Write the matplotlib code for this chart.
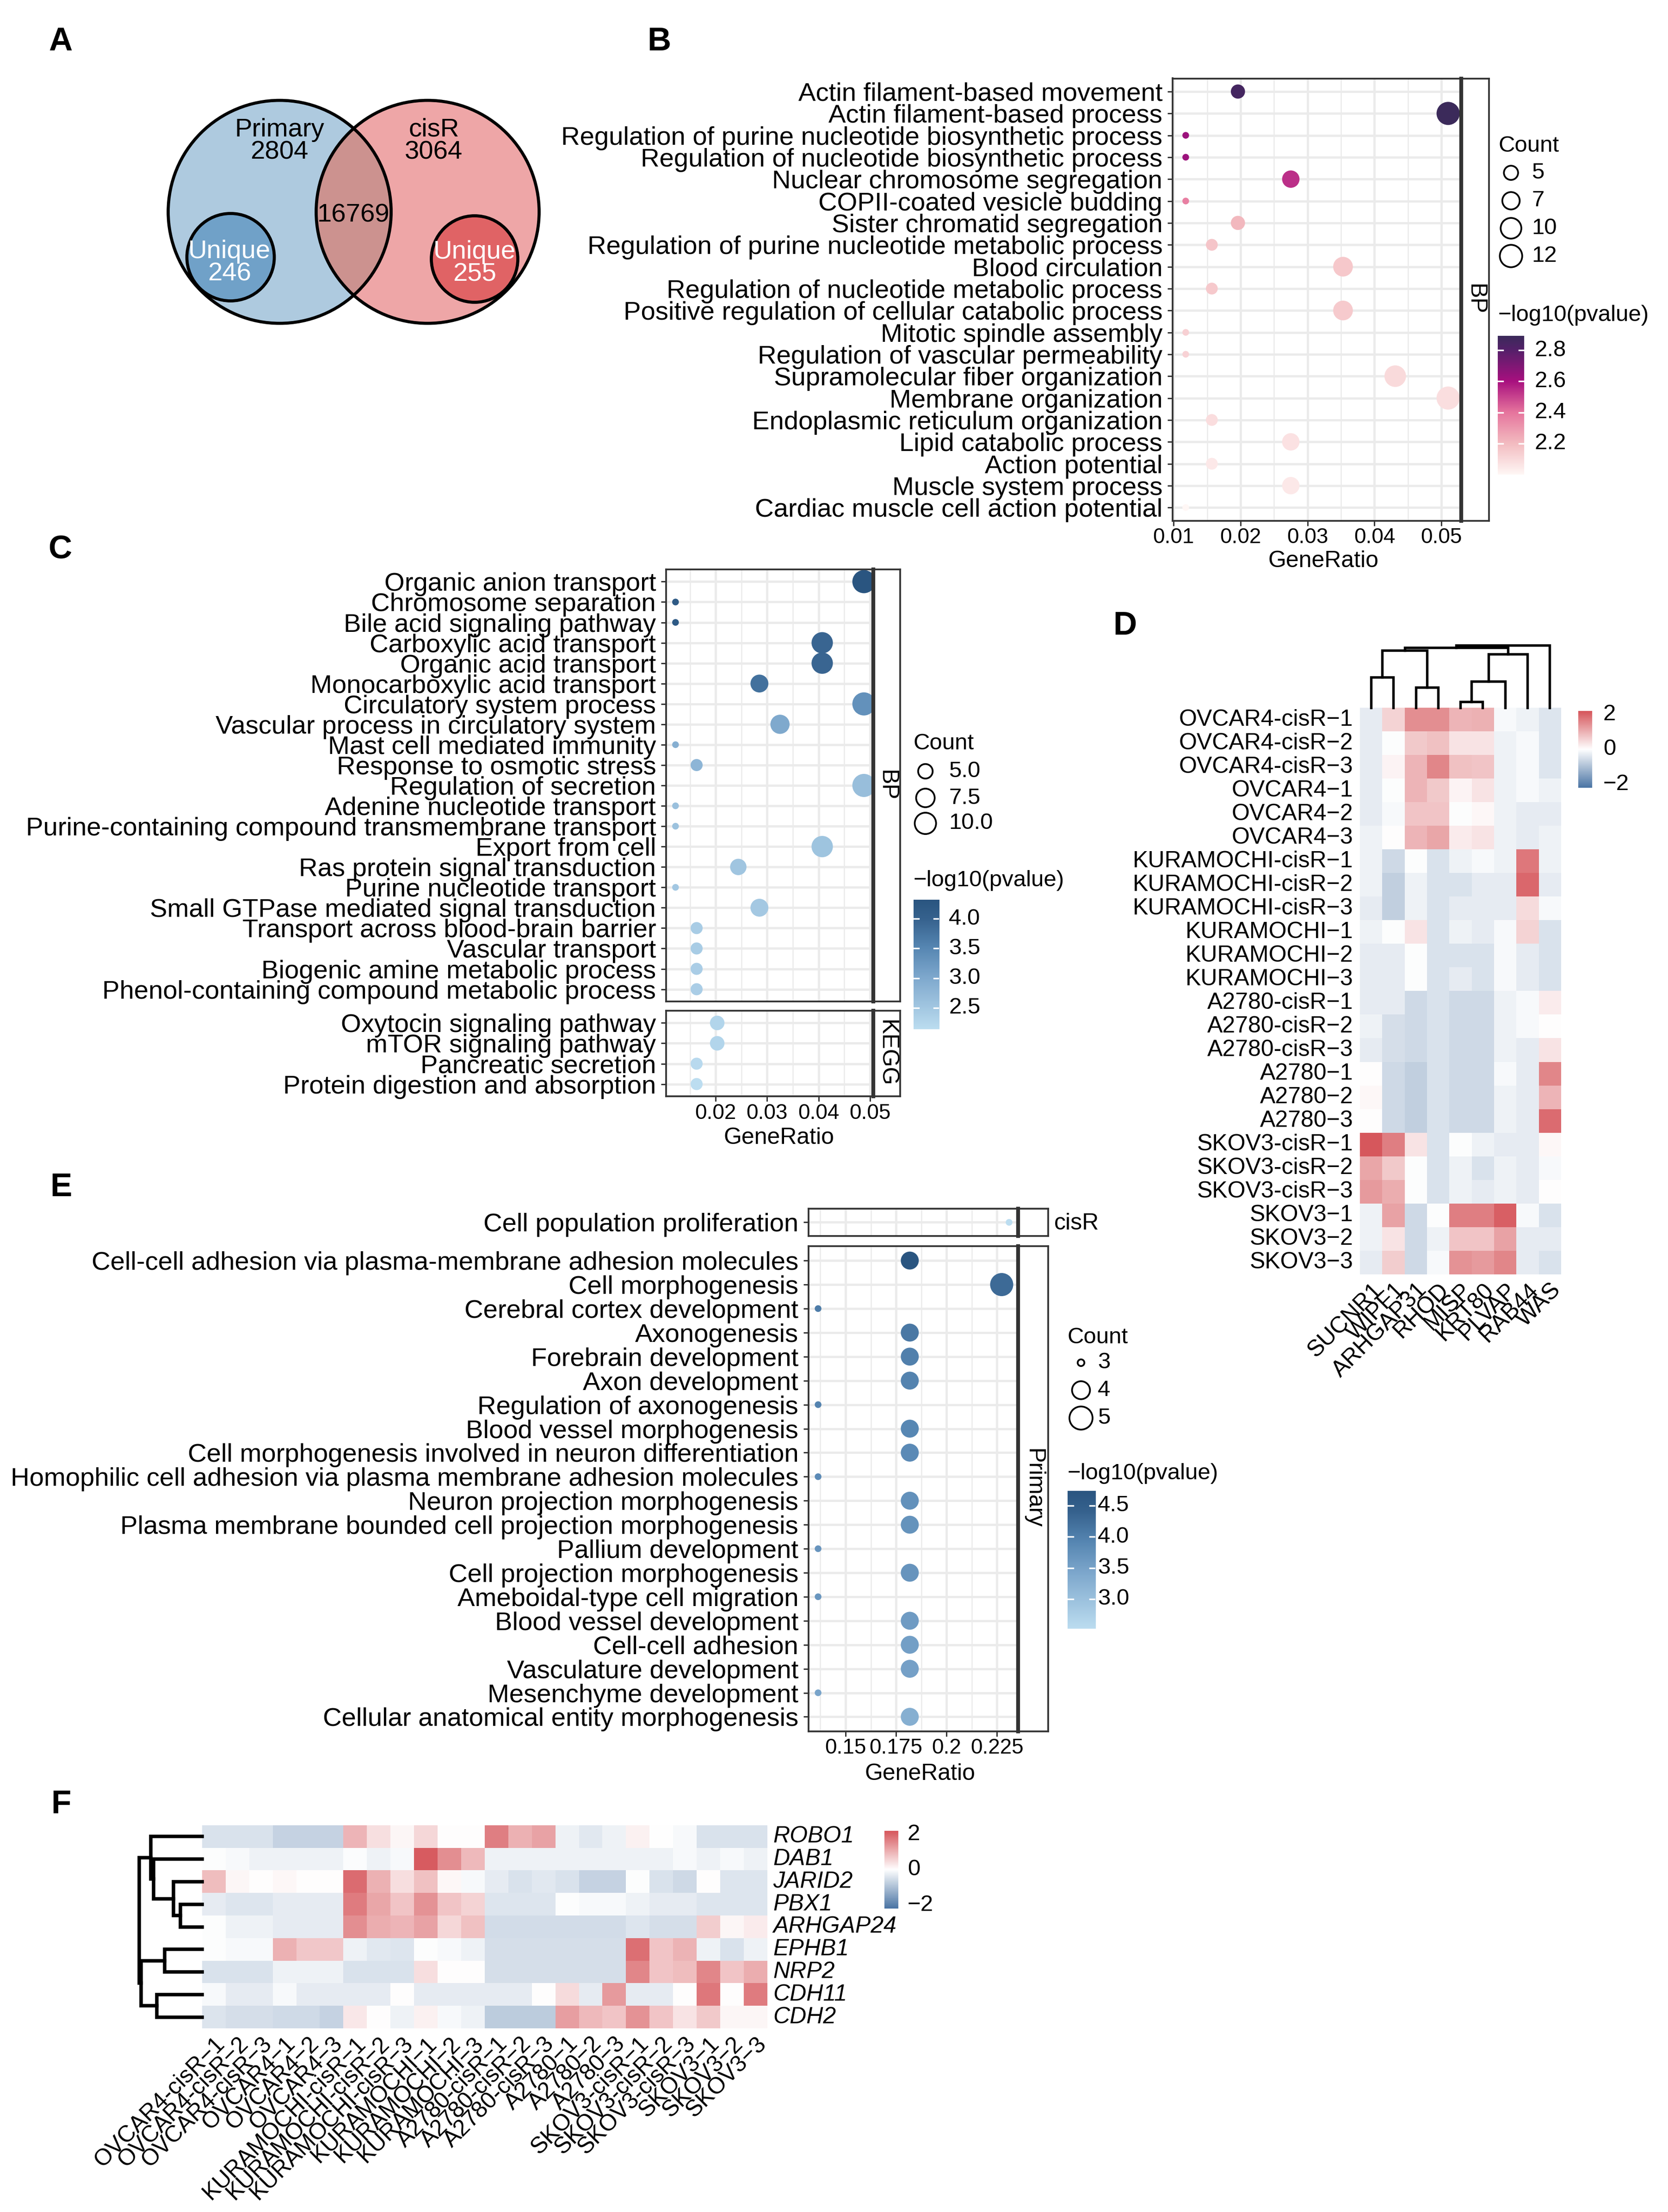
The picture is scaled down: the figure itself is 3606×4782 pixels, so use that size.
import numpy as np
import matplotlib
matplotlib.use("Agg")
import matplotlib.pyplot as plt
from matplotlib.patches import Circle
from matplotlib.colors import LinearSegmentedColormap, Normalize

W, H = 3606, 4782
DPI = 300
plt.rcParams['font.family'] = ['Liberation Sans', 'DejaVu Sans']

# ---------------- A: venn ----------------
venn_sets = ['Primary', 'cisR']
venn_only = [2804, 3064]
venn_shared = 16769
venn_unique = [246, 255]

# ---------------- B: cisR unique, GO BP ----------------
b_terms = ['Actin filament-based movement', 'Actin filament-based process',
           'Regulation of purine nucleotide biosynthetic process',
           'Regulation of nucleotide biosynthetic process', 'Nuclear chromosome segregation',
           'COPII-coated vesicle budding', 'Sister chromatid segregation',
           'Regulation of purine nucleotide metabolic process', 'Blood circulation',
           'Regulation of nucleotide metabolic process',
           'Positive regulation of cellular catabolic process', 'Mitotic spindle assembly',
           'Regulation of vascular permeability', 'Supramolecular fiber organization',
           'Membrane organization', 'Endoplasmic reticulum organization',
           'Lipid catabolic process', 'Action potential', 'Muscle system process',
           'Cardiac muscle cell action potential']
b_count = [5, 13, 3, 3, 7, 3, 5, 4, 9, 4, 9, 3, 3, 11, 13, 4, 7, 4, 7, 3]
b_ratio = [0.0196, 0.0510, 0.0118, 0.0118, 0.0275, 0.0118, 0.0196, 0.0157, 0.0353, 0.0157,
           0.0353, 0.0118, 0.0118, 0.0431, 0.0510, 0.0157, 0.0275, 0.0157, 0.0275, 0.0118]
b_logp = [2.86, 2.893, 2.63, 2.63, 2.54, 2.37, 2.21, 2.17, 2.16, 2.155,
          2.15, 2.13, 2.125, 2.10, 2.085, 2.09, 2.075, 2.05, 2.05, 2.00]

# ---------------- C: primary unique, BP + KEGG ----------------
c_bp_terms = ['Organic anion transport', 'Chromosome separation', 'Bile acid signaling pathway',
              'Carboxylic acid transport', 'Organic acid transport',
              'Monocarboxylic acid transport', 'Circulatory system process',
              'Vascular process in circulatory system', 'Mast cell mediated immunity',
              'Response to osmotic stress', 'Regulation of secretion',
              'Adenine nucleotide transport',
              'Purine-containing compound transmembrane transport', 'Export from cell',
              'Ras protein signal transduction', 'Purine nucleotide transport',
              'Small GTPase mediated signal transduction',
              'Transport across blood-brain barrier', 'Vascular transport',
              'Biogenic amine metabolic process',
              'Phenol-containing compound metabolic process']
c_bp_count = [12, 3, 3, 10, 10, 7, 12, 8, 3, 4, 12, 3, 3, 10, 6, 3, 7, 4, 4, 4, 4]
c_bp_ratio = [0.0488, 0.0122, 0.0122, 0.0407, 0.0407, 0.0285, 0.0488, 0.0325, 0.0122, 0.0163,
              0.0488, 0.0122, 0.0122, 0.0407, 0.0244, 0.0122, 0.0285, 0.0163, 0.0163, 0.0163,
              0.0163]
c_bp_logp = [4.324, 4.2, 4.2, 3.95, 3.95, 3.8, 3.35, 3.0, 2.9, 2.8, 2.65, 2.62, 2.58, 2.56,
             2.53, 2.5, 2.48, 2.42, 2.42, 2.4, 2.4]
c_kegg_terms = ['Oxytocin signaling pathway', 'mTOR signaling pathway',
                'Pancreatic secretion', 'Protein digestion and absorption']
c_kegg_count = [5, 5, 4, 4]
c_kegg_ratio = [0.0203, 0.0203, 0.0163, 0.0163]
c_kegg_logp = [2.28, 2.28, 2.2, 2.135]

# ---------------- E: GO terms of panel F genes ----------------
e_cisr_terms = ['Cell population proliferation']
e_cisr_count = [3]
e_cisr_ratio = [0.2308]
e_cisr_logp = [2.525]
e_pri_terms = ['Cell-cell adhesion via plasma-membrane adhesion molecules', 'Cell morphogenesis',
               'Cerebral cortex development', 'Axonogenesis', 'Forebrain development',
               'Axon development', 'Regulation of axonogenesis', 'Blood vessel morphogenesis',
               'Cell morphogenesis involved in neuron differentiation',
               'Homophilic cell adhesion via plasma membrane adhesion molecules',
               'Neuron projection morphogenesis',
               'Plasma membrane bounded cell projection morphogenesis', 'Pallium development',
               'Cell projection morphogenesis', 'Ameboidal-type cell migration',
               'Blood vessel development', 'Cell-cell adhesion', 'Vasculature development',
               'Mesenchyme development', 'Cellular anatomical entity morphogenesis']
e_pri_count = [4, 5, 3, 4, 4, 4, 3, 4, 4, 3, 4, 4, 3, 4, 3, 4, 4, 4, 3, 4]
e_pri_ratio = [0.1818, 0.2273, 0.1364, 0.1818, 0.1818, 0.1818, 0.1364, 0.1818, 0.1818, 0.1364,
               0.1818, 0.1818, 0.1364, 0.1818, 0.1364, 0.1818, 0.1818, 0.1818, 0.1364, 0.1818]
e_pri_logp = [4.735, 4.3, 4.05, 4.1, 4.0, 3.95, 3.95, 3.9, 3.85, 3.85, 3.75, 3.72, 3.7, 3.7,
              3.68, 3.6, 3.55, 3.52, 3.47, 3.3]

# ---------------- D / F: heatmaps ----------------
M = '\u2212'
samples = ['OVCAR4-cisR' + M + '1', 'OVCAR4-cisR' + M + '2', 'OVCAR4-cisR' + M + '3',
           'OVCAR4' + M + '1', 'OVCAR4' + M + '2', 'OVCAR4' + M + '3',
           'KURAMOCHI-cisR' + M + '1', 'KURAMOCHI-cisR' + M + '2', 'KURAMOCHI-cisR' + M + '3',
           'KURAMOCHI' + M + '1', 'KURAMOCHI' + M + '2', 'KURAMOCHI' + M + '3',
           'A2780-cisR' + M + '1', 'A2780-cisR' + M + '2', 'A2780-cisR' + M + '3',
           'A2780' + M + '1', 'A2780' + M + '2', 'A2780' + M + '3',
           'SKOV3-cisR' + M + '1', 'SKOV3-cisR' + M + '2', 'SKOV3-cisR' + M + '3',
           'SKOV3' + M + '1', 'SKOV3' + M + '2', 'SKOV3' + M + '3']

d_genes = ['SUCNR1', 'WIPF1', 'ARHGAP31', 'RHOD', 'MISP', 'KRT80', 'PLVAP', 'RAB44', 'WAS']
d_values = np.array([
    [-0.3, 0.55, 1.45, 1.45, 0.95, 1.0, -0.1, -0.2, -0.4],
    [-0.3, -0.03, 0.7, 0.8, 0.35, 0.35, -0.2, -0.1, -0.4],
    [-0.3, 0.15, 0.95, 1.55, 0.8, 0.75, -0.2, -0.1, -0.4],
    [-0.3, -0.03, 0.95, 0.7, 0.15, 0.35, -0.2, -0.1, -0.2],
    [-0.3, -0.1, 0.75, 0.75, -0.03, 0.1, -0.2, -0.3, -0.3],
    [-0.2, 0.02, 0.95, 1.15, 0.25, 0.35, -0.2, -0.3, -0.2],
    [-0.2, -0.6, -0.03, -0.45, -0.2, -0.1, -0.2, 1.75, -0.2],
    [-0.2, -0.75, -0.2, -0.45, -0.45, -0.3, -0.3, 1.95, -0.3],
    [-0.3, -0.75, -0.2, -0.45, -0.3, -0.3, -0.3, 0.45, -0.1],
    [-0.2, -0.03, 0.35, -0.45, -0.2, -0.3, -0.1, 0.55, -0.45],
    [-0.3, -0.3, -0.03, -0.45, -0.45, -0.45, -0.1, -0.3, -0.45],
    [-0.3, -0.3, -0.03, -0.45, -0.3, -0.45, -0.1, -0.3, -0.45],
    [-0.3, -0.3, -0.6, -0.45, -0.6, -0.6, -0.2, -0.1, 0.25],
    [-0.2, -0.5, -0.6, -0.45, -0.6, -0.6, -0.2, -0.1, 0.03],
    [-0.3, -0.5, -0.6, -0.45, -0.6, -0.6, -0.2, -0.3, 0.35],
    [0.03, -0.6, -0.75, -0.45, -0.6, -0.6, -0.1, -0.3, 1.55],
    [0.1, -0.6, -0.75, -0.45, -0.6, -0.6, -0.2, -0.3, 0.95],
    [0.03, -0.6, -0.75, -0.45, -0.6, -0.6, -0.2, -0.3, 1.9],
    [2.15, 1.65, 0.35, -0.45, -0.03, -0.2, -0.3, -0.3, 0.1],
    [1.15, 0.7, -0.03, -0.45, -0.2, -0.45, -0.2, -0.3, -0.1],
    [1.3, 1.05, -0.03, -0.45, -0.2, -0.3, -0.2, -0.3, 0.03],
    [-0.2, 1.2, -0.6, -0.03, 1.65, 1.65, 2.05, -0.1, -0.45],
    [-0.2, 0.35, -0.6, -0.2, 0.75, 0.75, 1.2, -0.3, -0.3],
    [-0.3, 0.65, -0.6, -0.1, 1.4, 1.3, 1.55, -0.3, -0.45],
])
# column dendrogram: (left, right, height), new node ids start at 9
d_col_merges = [(0, 1, 4.9), (2, 3, 3.25), (4, 5, 0.95), (11, 6, 4.2), (12, 7, 8.6),
                (9, 10, 9.15), (14, 13, 9.6), (15, 8, 10.0)]

f_genes = ['ROBO1', 'DAB1', 'JARID2', 'PBX1', 'ARHGAP24', 'EPHB1', 'NRP2', 'CDH11', 'CDH2']
f_values = np.array([
    [-0.45, -0.45, -0.45, -0.7, -0.7, -0.7, 0.95, 0.4, 0.12, 0.5, 0.02, 0.02,
     1.65, 1.0, 1.2, -0.2, -0.35, -0.2, 0.18, 0.0, -0.1, -0.45, -0.45, -0.45],
    [-0.03, -0.1, -0.2, -0.2, -0.2, -0.2, -0.05, -0.2, -0.1, 2.1, 1.45, 0.9,
     -0.2, -0.2, -0.2, -0.2, -0.2, -0.2, -0.2, -0.2, -0.1, -0.2, -0.1, -0.2],
    [0.85, 0.12, 0.02, 0.1, 0.03, 0.03, 1.9, 1.0, 0.42, 0.8, 0.1, -0.1,
     -0.3, -0.45, -0.35, -0.45, -0.7, -0.7, -0.03, -0.45, -0.6, 0.02, -0.4, -0.4],
    [-0.3, -0.4, -0.4, -0.3, -0.3, -0.3, 1.7, 1.15, 0.75, 1.4, 0.75, 0.55,
     -0.4, -0.4, -0.4, -0.03, -0.1, -0.1, -0.2, -0.3, -0.3, -0.4, -0.4, -0.4],
    [-0.03, -0.2, -0.2, -0.3, -0.3, -0.3, 1.45, 1.05, 0.95, 1.2, 0.5, 0.8,
     -0.55, -0.55, -0.55, -0.55, -0.55, -0.55, -0.4, -0.5, -0.5, 0.65, 0.12, 0.25],
    [-0.03, -0.1, -0.1, 1.0, 0.72, 0.72, -0.2, -0.35, -0.4, -0.03, -0.1, -0.2,
     -0.5, -0.5, -0.5, -0.5, -0.5, -0.5, 1.85, 0.75, 0.97, -0.2, -0.45, -0.2],
    [-0.45, -0.45, -0.45, -0.2, -0.2, -0.2, -0.45, -0.45, -0.45, 0.42, 0.02, 0.02,
     -0.5, -0.5, -0.5, -0.5, -0.5, -0.5, 1.55, 0.75, 0.85, 1.55, 0.75, 1.05],
    [-0.1, -0.3, -0.3, -0.1, -0.3, -0.3, -0.3, -0.3, 0.02, -0.3, -0.3, -0.3,
     -0.3, -0.3, 0.02, 0.45, -0.3, 1.3, -0.3, -0.3, 0.02, 1.75, 0.02, 1.7],
    [-0.42, -0.5, -0.5, -0.58, -0.58, -0.7, 0.3, 0.02, -0.2, 0.18, -0.1, -0.2,
     -0.8, -0.8, -0.8, 1.25, 0.9, 0.75, 1.4, 0.75, 0.35, 0.7, 0.12, 0.12],
])
f_row_merges = [(3, 4, 3.45), (2, 9, 4.55), (1, 10, 7.7), (0, 11, 8.15), (5, 6, 5.95),
                (7, 8, 7.2), (13, 14, 9.7), (12, 15, 10.0)]

# ---------------- style ----------------
FS_TERM = 13.5
FS_TICK = 11
FS_XLAB = 12
FS_LEG = 11.8
FS_HEAT = 12
EDGE = '#333333'
GRID = '#EBEBEB'

pink_cmap = LinearSegmentedColormap.from_list('bp_pink', [
    (0.0, '#FFF7F5'), (0.225, '#F3BBC0'), (0.45, '#E6749D'),
    (0.674, '#A8107F'), (0.9, '#55206A'), (1.0, '#3B2A5A')])
blue_cmap = LinearSegmentedColormap.from_list('bp_blue', [
    (0.0, '#BCDDF0'), (0.4, '#7EA8CD'), (0.63, '#5686B2'),
    (0.85, '#36628E'), (1.0, '#2A5580')])
heat_cmap = LinearSegmentedColormap.from_list('heat', ['#4A74A4', '#FFFFFF', '#D6555A'])
heat_norm = Normalize(-2.2, 2.2)

fig = plt.figure(figsize=(W / DPI, H / DPI), dpi=DPI)
ov = fig.add_axes([0, 0, 1, 1], zorder=10)
ov.set_xlim(0, W)
ov.set_ylim(H, 0)
ov.axis('off')
ov.patch.set_alpha(0)


def px_axes(x0, y0, x1, y1, **kw):
    return fig.add_axes([x0 / W, 1 - y1 / H, (x1 - x0) / W, (y1 - y0) / H], **kw)


def expand(vals, mult=0.05):
    lo, hi = min(vals), max(vals)
    r = hi - lo
    return lo - mult * r, hi + mult * r


def dot_area(counts, cmin, cmax, dmin=14.5, dmax=50.0):
    counts = np.asarray(counts, dtype=float)
    f = (np.sqrt(counts) - np.sqrt(cmin)) / (np.sqrt(cmax) - np.sqrt(cmin))
    d = dmin + (dmax - dmin) * np.clip(f, 0, 1) ** 0.6
    return (d * 72 / DPI) ** 2


def style_spines(ax, lw=0.9):
    for s in ax.spines.values():
        s.set_color(EDGE)
        s.set_linewidth(lw)


def dot_panel(rect, terms, ratio, count, logp, xlim, cmap, norm, crange,
              xt, xtl, xm, bottom):
    ax = px_axes(*rect)
    n = len(terms)
    yy = np.arange(n)
    ax.scatter(ratio, yy, s=dot_area(count, *crange), c=logp, cmap=cmap, norm=norm,
               linewidths=0, zorder=3)
    ax.set_xlim(*xlim)
    ax.set_ylim(n - 0.4, -0.6)
    ax.set_yticks(yy)
    ax.set_yticklabels(terms, fontsize=FS_TERM)
    ax.set_xticks(xt)
    ax.set_xticks(xm, minor=True)
    ax.set_axisbelow(True)
    ax.grid(which='major', color=GRID, lw=1.2)
    ax.grid(which='minor', axis='x', color=GRID, lw=0.6)
    ax.tick_params(which='major', length=2.75, width=0.7, color=EDGE, pad=2.5)
    ax.tick_params(which='minor', length=0)
    if bottom:
        ax.set_xticklabels(xtl, fontsize=FS_TICK)
        ax.tick_params(axis='x', pad=0.8)
    else:
        ax.tick_params(axis='x', which='both', length=0, labelbottom=False)
    style_spines(ax)
    return ax


def strip(rect, label=None):
    sa = px_axes(*rect)
    sa.set_xticks([])
    sa.set_yticks([])
    style_spines(sa)
    sa.spines['left'].set_linewidth(2.0)
    if label:
        sa.text(0.5, 0.5, label, rotation=270, ha='center', va='center', fontsize=12,
                transform=sa.transAxes)
    return sa


def colorbar(rect, cmap, vmin, vmax, ticks, labels, label_x, white_ticks=True):
    x0, y0, x1, y1 = rect
    ca = px_axes(*rect)
    grad = np.linspace(vmin, vmax, 256).reshape(-1, 1)
    ca.imshow(grad, aspect='auto', cmap=cmap, norm=Normalize(vmin, vmax),
              extent=[0, 1, vmin, vmax], origin='lower', interpolation='bilinear')
    ca.set_xlim(0, 1)
    ca.set_ylim(vmin, vmax)
    ca.axis('off')
    tx = (label_x - x0) / (x1 - x0)
    for t, lab in zip(ticks, labels):
        if white_ticks:
            ca.plot([0, 0.2], [t, t], color='white', lw=0.8)
            ca.plot([0.8, 1], [t, t], color='white', lw=0.8)
        ca.text(tx, t, lab, transform=ca.get_yaxis_transform(), ha='left', va='center',
                fontsize=FS_LEG)
    return ca


def size_legend(title_xy, cx, ys, lx, values, labels, crange):
    ov.text(title_xy[0], title_xy[1], 'Count', fontsize=FS_LEG, ha='left', va='center')
    ov.scatter([cx] * len(values), ys, s=dot_area(values, *crange), facecolors='none',
               edgecolors='black', linewidths=0.9)
    for y, lab in zip(ys, labels):
        ov.text(lx, y, lab, fontsize=FS_LEG, ha='left', va='center')


def dendrogram(ax, merges, n, side, lw):
    pos = list(np.arange(n) + 0.5)
    hts = [0.0] * n
    for a, b, h in merges:
        xa, xb = pos[a], pos[b]
        if side == 'top':
            ax.plot([xa, xa, xb, xb], [hts[a], h, h, hts[b]], color='black', lw=lw,
                    clip_on=False, solid_joinstyle='miter')
        else:
            ax.plot([hts[a], h, h, hts[b]], [xa, xa, xb, xb], color='black', lw=lw,
                    clip_on=False, solid_joinstyle='miter')
        pos.append((xa + xb) / 2)
        hts.append(h)


def heatmap(rect, values):
    ha = px_axes(*rect)
    nr, nc = values.shape
    ha.imshow(values, aspect='auto', cmap=heat_cmap, norm=heat_norm,
              interpolation='nearest', extent=[0, nc, nr, 0])
    ha.set_xlim(0, nc)
    ha.set_ylim(nr, 0)
    ha.axis('off')
    return ha


# ---------------- panel letters ----------------
for lab, (x, y) in zip('ABCDEF', [(131, 91), (1425, 91), (130, 1190), (2432, 1354),
                                  (132, 2568), (132, 3902)]):
    ov.text(x, y, lab, fontsize=17, fontweight='bold', ha='center', va='center')

# ---------------- A ----------------
cl = Circle((604.6, 458), 241, fc='#AECADF', ec='none')
cr = Circle((924.5, 458), 241, fc='#EEA6A7', ec='none')
ov.add_patch(cl)
ov.add_patch(cr)
lens = Circle((924.5, 458), 241, fc='#CC928F', ec='none')
ov.add_patch(lens)
lens.set_clip_path(cl)
for c in [(604.6, 458), (924.5, 458)]:
    ov.add_patch(Circle(c, 241, fill=False, ec='black', lw=1.6))
ov.add_patch(Circle((498.5, 556), 94.5, fc='#70A1C8', ec='black', lw=1.6))
ov.add_patch(Circle((1026, 560), 93.5, fc='#E06365', ec='black', lw=1.6))
FS_VENN = 13.5
ov.text(604, 305, f'{venn_sets[0]}\n{venn_only[0]}', fontsize=FS_VENN, ha='center',
        va='center', linespacing=0.92)
ov.text(938, 305, f'{venn_sets[1]}\n{venn_only[1]}', fontsize=FS_VENN, ha='center',
        va='center', linespacing=0.92)
ov.text(764, 465, f'{venn_shared}', fontsize=FS_VENN, ha='center', va='center')
ov.text(496, 568, f'Unique\n{venn_unique[0]}', fontsize=FS_VENN, ha='center', va='center',
        color='white', linespacing=0.92)
ov.text(1026, 569, f'Unique\n{venn_unique[1]}', fontsize=FS_VENN, ha='center', va='center',
        color='white', linespacing=0.92)

# ---------------- B ----------------
b_norm = Normalize(min(b_logp), max(b_logp))
b_cr = (min(b_count), max(b_count))
dot_panel((2535, 169.5, 3159, 1125.6), b_terms, b_ratio, b_count, b_logp, expand(b_ratio),
          pink_cmap, b_norm, b_cr, [0.01, 0.02, 0.03, 0.04, 0.05],
          ['0.01', '0.02', '0.03', '0.04', '0.05'], [0.015, 0.025, 0.035, 0.045], True)
strip((3159, 169.5, 3219, 1125.6), 'BP')
ov.text(2861, 1213, 'GeneRatio', fontsize=FS_XLAB, ha='center', va='center')
size_legend((3239, 316), 3266.6, [373.6, 434, 493.5, 553.5], 3311, [5, 7, 10, 12],
            ['5', '7', '10', '12'], b_cr)
ov.text(3239, 681.7, M + 'log10(pvalue)', fontsize=FS_LEG, ha='left', va='center')
colorbar((3238, 726, 3295, 1026), pink_cmap, b_norm.vmin, b_norm.vmax,
         [2.2, 2.4, 2.6, 2.8], ['2.2', '2.4', '2.6', '2.8'], 3317)

# ---------------- C ----------------
c_all_logp = c_bp_logp + c_kegg_logp
c_all_count = c_bp_count + c_kegg_count
c_norm = Normalize(min(c_all_logp), max(c_all_logp))
c_cr = (min(c_all_count), max(c_all_count))
c_xlim = expand(c_bp_ratio + c_kegg_ratio)
c_xt = [0.02, 0.03, 0.04, 0.05]
c_xm = [0.015, 0.025, 0.035, 0.045]
dot_panel((1440, 1231, 1888, 2165), c_bp_terms, c_bp_ratio, c_bp_count, c_bp_logp, c_xlim,
          blue_cmap, c_norm, c_cr, c_xt, [], c_xm, False)
strip((1888, 1231, 1946, 2165), 'BP')
dot_panel((1440, 2185, 1888, 2370), c_kegg_terms, c_kegg_ratio, c_kegg_count, c_kegg_logp,
          c_xlim, blue_cmap, c_norm, c_cr, c_xt, ['0.02', '0.03', '0.04', '0.05'], c_xm, True)
strip((1888, 2185, 1946, 2370), 'KEGG')
ov.text(1684, 2460, 'GeneRatio', fontsize=FS_XLAB, ha='center', va='center')
size_legend((1974.6, 1608), 2000.6, [1667.4, 1725, 1780], 2051, [5.0, 7.5, 10.0],
            ['5.0', '7.5', '10.0'], c_cr)
ov.text(1974.6, 1903, M + 'log10(pvalue)', fontsize=FS_LEG, ha='left', va='center')
colorbar((1974.6, 1944.7, 2029.7, 2225.5), blue_cmap, c_norm.vmin, c_norm.vmax,
         [2.5, 3.0, 3.5, 4.0], ['2.5', '3.0', '3.5', '4.0'], 2051)

# ---------------- E ----------------
e_all_logp = e_cisr_logp + e_pri_logp
e_all_count = e_cisr_count + e_pri_count
e_norm = Normalize(min(e_all_logp), max(e_all_logp))
e_cr = (min(e_all_count), max(e_all_count))
e_xlim = expand(e_cisr_ratio + e_pri_ratio)
e_xt = [0.15, 0.175, 0.2, 0.225]
e_xm = [0.1375, 0.1625, 0.1875, 0.2125]
dot_panel((1748, 2612.5, 2201.4, 2672), e_cisr_terms, e_cisr_ratio, e_cisr_count,
          e_cisr_logp, e_xlim, blue_cmap, e_norm, e_cr, e_xt, [], e_xm, False)
strip((2201.4, 2612.5, 2265.7, 2672))
ov.text(2279, 2645, 'cisR', fontsize=12, ha='left', va='center')
dot_panel((1748, 2694, 2201.4, 3742.6), e_pri_terms, e_pri_ratio, e_pri_count, e_pri_logp,
          e_xlim, blue_cmap, e_norm, e_cr, e_xt, ['0.15', '0.175', '0.2', '0.225'], e_xm, True)
strip((2201.4, 2694, 2265.7, 3742.6), 'Primary')
ov.text(1989, 3834.5, 'GeneRatio', fontsize=FS_XLAB, ha='center', va='center')
size_legend((2307.5, 2891.7), 2337, [2946, 3005.4, 3065.6], 2373, [3, 4, 5],
            ['3', '4', '5'], e_cr)
ov.text(2307.5, 3186, M + 'log10(pvalue)', fontsize=FS_LEG, ha='left', va='center')
colorbar((2307.5, 3223, 2368, 3521), blue_cmap, e_norm.vmin, e_norm.vmax,
         [3.0, 3.5, 4.0, 4.5], ['3.0', '3.5', '4.0', '4.5'], 2373)

# ---------------- D ----------------
dx0, dx1, dy0, dy1 = 2940, 3374.4, 1530, 2755
heatmap((dx0, dy0, dx1, dy1), d_values)
dd = px_axes(dx0, 1395, dx1, dy0)
dd.set_xlim(0, len(d_genes))
dd.set_ylim(0, 10)
dd.axis('off')
dendrogram(dd, d_col_merges, len(d_genes), 'top', 1.3)
rh = (dy1 - dy0) / len(samples)
cw = (dx1 - dx0) / len(d_genes)
for i, s in enumerate(samples):
    ov.text(2925.6, dy0 + rh * (i + 0.5), s, fontsize=FS_HEAT, ha='right', va='center')
for j, g in enumerate(d_genes):
    ov.text(dx0 + cw * (j + 0.5), dy1 + 10, g, fontsize=FS_HEAT, rotation=45, ha='right',
            va='top', rotation_mode='anchor')
colorbar((3412, 1537, 3442, 1703), heat_cmap, -2.2, 2.2, [2, 0, -2], ['2', '0', M + '2'],
         3466, white_ticks=False)

# ---------------- F ----------------
fx0, fx1, fy0, fy1 = 437, 1658.6, 3946, 4385
heatmap((fx0, fy0, fx1, fy1), f_values)
fd = px_axes(301, fy0, fx0, fy1)
fd.set_xlim(10, 0)
fd.set_ylim(len(f_genes), 0)
fd.axis('off')
dendrogram(fd, f_row_merges, len(f_genes), 'left', 1.8)
rh = (fy1 - fy0) / len(f_genes)
cw = (fx1 - fx0) / len(samples)
for i, g in enumerate(f_genes):
    ov.text(1671, fy0 + rh * (i + 0.5), g, fontsize=FS_HEAT, style='italic', ha='left',
            va='center')
for j, s in enumerate(samples):
    ov.text(fx0 + cw * (j + 0.5), fy1 + 10, s, fontsize=FS_HEAT, rotation=45, ha='right',
            va='top', rotation_mode='anchor')
colorbar((1912, 3958, 1942, 4126), heat_cmap, -2.2, 2.2, [2, 0, -2], ['2', '0', M + '2'],
         1962, white_ticks=False)

fig.savefig('out.png', dpi=DPI)
